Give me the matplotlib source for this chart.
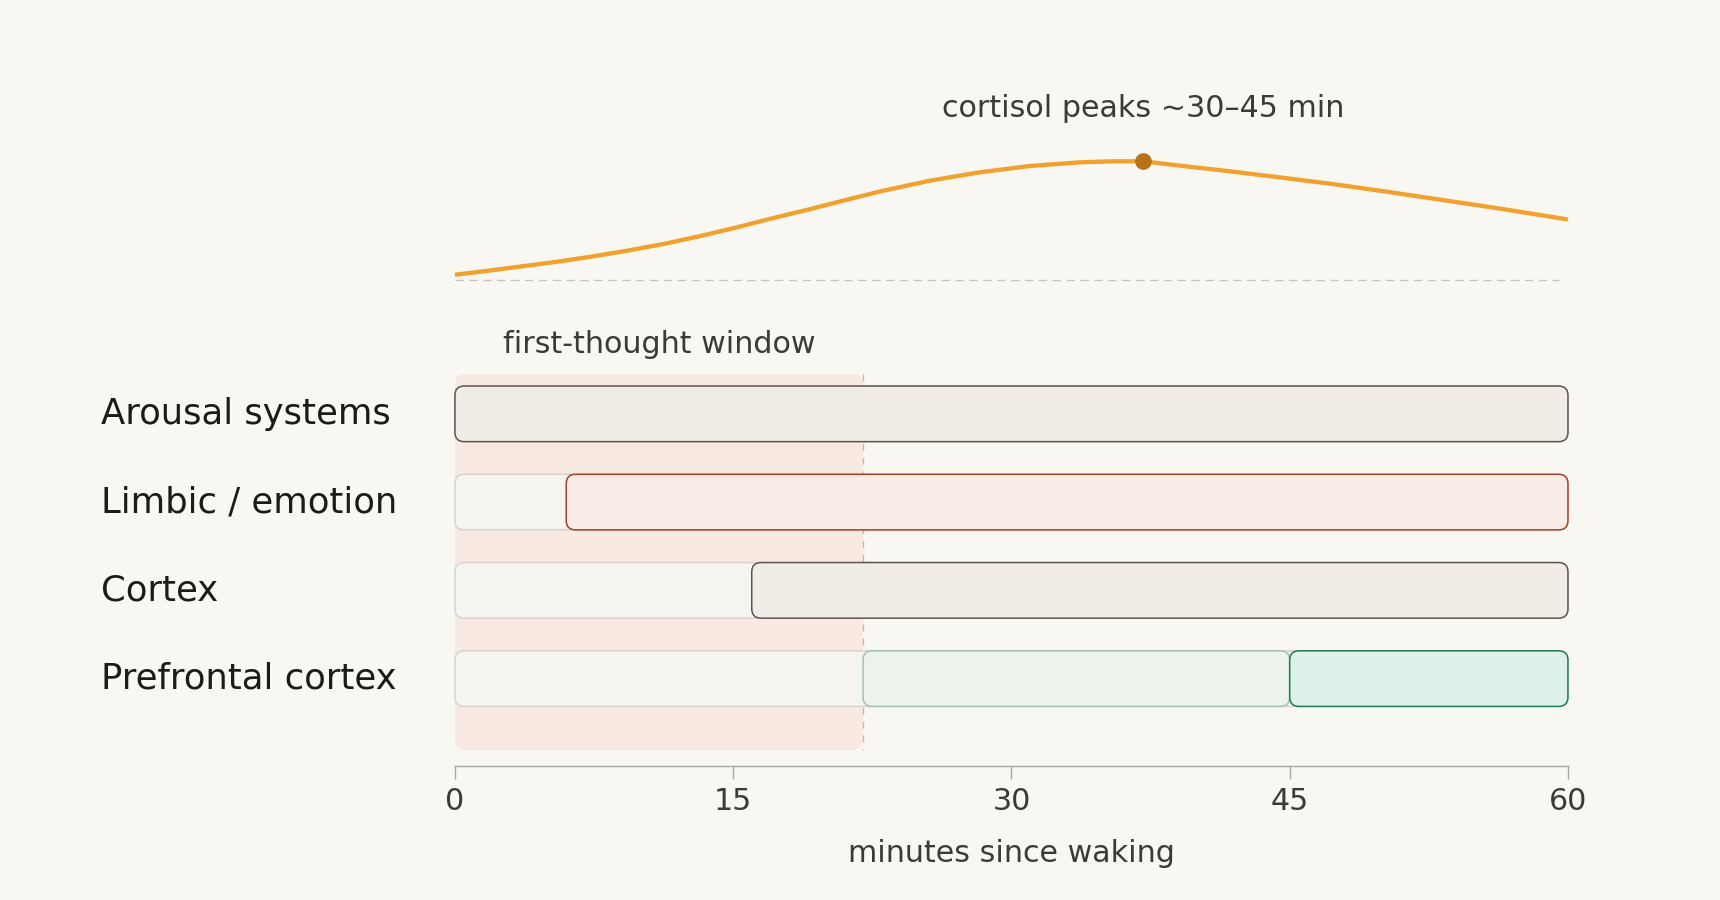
import matplotlib.pyplot as plt
from matplotlib.patches import FancyBboxPatch

plt.rcParams['font.family'] = ['DejaVu Sans']

# regions (rows, top to bottom)
regions = ['Arousal systems', 'Limbic / emotion', 'Cortex', 'Prefrontal cortex']

# active segments: row index, start minute, end minute, kind
seg_row = [0, 1, 2, 3, 3]
seg_start = [0, 6, 16, 22, 45]
seg_end = [60, 60, 60, 45, 60]
seg_kind = ['on', 'limbic', 'on', 'warming', 'online']

# cortisol curve (relative level)
cort_min = [0, 1.65, 3.55, 5.5, 7.4, 9.35, 11.3, 13.2, 15.1, 17.0, 19.0, 20.9,
            22.9, 25.6, 28.3, 31.0, 33.7, 35.5, 37.1,
            39.1, 41.4, 44.3, 47.3, 50.3, 53.3, 56.3, 60]
cort_val = [5.7, 9.4, 14, 18.7, 24, 30, 36.7, 44.3, 52.7, 61.7, 70.7, 79.7,
            89, 99.8, 108.2, 114.5, 118.2, 119.2, 119.2,
            114.8, 110, 103.5, 96.5, 88.6, 80.3, 72, 61]
peak_min = 37.1
peak_val = 119.2

window_end = 22
xticks = [0, 15, 30, 45, 60]

bg = '#f9f7f2'
styles = {
    'track':   ('#f5f4ee', '#d6d1ca', 1.0),
    'on':      ('#f1ede6', '#5a5754', 1.1),
    'limbic':  ('#f9ece7', '#a3412a', 1.1),
    'warming': ('#ecf3ec', '#9fc2b0', 1.1),
    'online':  ('#dff2ea', '#1f7a5a', 1.1),
}

fig = plt.figure(figsize=(17.2, 9), dpi=100)
fig.patch.set_facecolor(bg)

# ---- bars axes
ax = fig.add_axes([0.2645, 0.1489, 0.6471, 0.4511])
ax.set_facecolor(bg)
ax.set_xlim(0, 60)
ax.set_ylim(3.99, -0.61)
bar_h = 0.63
asp = 18.55 / 88.3  # px per minute / px per row

# first-thought window
win = FancyBboxPatch((0, -0.45), window_end, 4.26,
                     boxstyle='round,pad=0,rounding_size=0.55', mutation_aspect=asp,
                     fc='#f8e9e2', ec='none', zorder=0, clip_on=False)
ax.add_patch(win)
ax.plot([window_end, window_end], [-0.45, 3.81], color='#bdb8b0', lw=1,
        ls=(0, (5, 5)), zorder=0.5)
ax.text(window_end / 2, -0.78, 'first-thought window', ha='center', va='center',
        fontsize=21.7, color='#3c3a38', clip_on=False)


def rbar(x0, x1, y, kind, z):
    fc, ec, lw = styles[kind]
    p = FancyBboxPatch((x0, y - bar_h / 2), x1 - x0, bar_h,
                       boxstyle='round,pad=0,rounding_size=0.5', mutation_aspect=asp,
                       fc=fc, ec=ec, lw=lw, zorder=z, clip_on=False)
    ax.add_patch(p)


for i, name in enumerate(regions):
    rbar(0, 60, i, 'track', 1)
    ax.text(-19.1, i, name, ha='left', va='center', fontsize=25.5, color='#1c1b1a',
            clip_on=False)

for r, s, e, k in zip(seg_row, seg_start, seg_end, seg_kind):
    rbar(s, e, r, k, 2)

for sp in ['top', 'right', 'left']:
    ax.spines[sp].set_visible(False)
ax.spines['bottom'].set_color('#aaa7a2')
ax.spines['bottom'].set_linewidth(1)
ax.set_yticks([])
ax.set_xticks(xticks)
ax.set_xticklabels([str(t) for t in xticks])
ax.tick_params(axis='x', length=9, width=1, color='#aaa7a2', labelsize=21.7,
               labelcolor='#3c3a38', pad=6)
ax.set_xlabel('minutes since waking', fontsize=21.7, color='#3c3a38', labelpad=17)

# ---- cortisol axes
ax2 = fig.add_axes([0.2645, 0.6778, 0.6471, 0.2222])
ax2.set_facecolor('none')
ax2.set_xlim(0, 60)
ax2.set_ylim(-9.5, 190.5)
ax2.axis('off')
ax2.plot([0, 59.5], [0, 0], color='#c9c5be', lw=1, ls=(0, (6, 4)))
ax2.plot(cort_min, cort_val, color='#f0a12e', lw=3.1, solid_capstyle='butt',
         solid_joinstyle='round', clip_on=False)
ax2.plot([peak_min], [peak_val], 'o', color='#b8731a', ms=11, zorder=3)
ax2.text(peak_min, 172, 'cortisol peaks ~30\u201345 min', ha='center', va='center',
         fontsize=21.7, color='#3c3a38')

fig.savefig('out.png', dpi=100, facecolor=bg)
